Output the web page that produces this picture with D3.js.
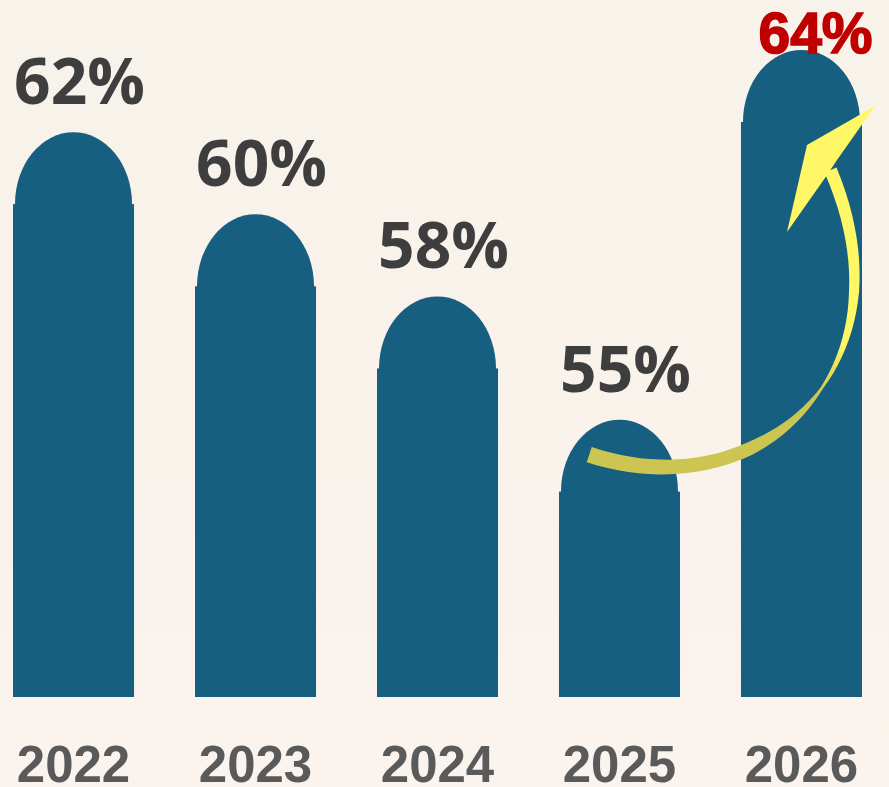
<!DOCTYPE html>
<html>
<head>
<meta charset="utf-8">
<script src="https://cdn.jsdelivr.net/npm/d3@7"></script>
<style>
  html, body { margin: 0; padding: 0; background: #f8f2ea; }
  svg { display: block; }
</style>
</head>
<body>
<svg id="chart"></svg>
<script>
// chart data
const years = ["2022", "2023", "2024", "2025", "2026"];
const values = [62, 60, 58, 55, 64];
const valueLabels = ["62%", "60%", "58%", "55%", "64%"];
const highlightYear = "2026";
const arrowFrom = "2025";
const arrowTo = "2026";

var width = 889;
var height = 787;
var baseY = 697;
var domeH = 72;

var svg = d3.select("#chart")
  .attr("width", width)
  .attr("height", height);

var defs = svg.append("defs");

var bg = defs.append("linearGradient")
  .attr("id", "bg")
  .attr("x1", 0).attr("y1", 0).attr("x2", 0).attr("y2", 1);
bg.append("stop").attr("offset", "0%").attr("stop-color", "#f7f2ea");
bg.append("stop").attr("offset", "100%").attr("stop-color", "#fbf3ed");

svg.append("rect")
  .attr("width", width)
  .attr("height", height)
  .attr("fill", "url(#bg)");

var data = years.map((y, i) => ({ year: y, value: values[i], label: valueLabels[i] }));

var x = d3.scaleBand()
  .domain(years)
  .range([13, 862])
  .paddingInner(0.335)
  .paddingOuter(0);

var y = d3.scaleLinear()
  .domain([50, 64])
  .range([baseY, 122]);

var bw = x.bandwidth();

// bars: rectangle body with a slightly narrower dome on top
var bars = svg.append("g")
  .selectAll("g")
  .data(data)
  .join("g")
  .attr("transform", d => `translate(${x(d.year)},0)`);

bars.append("rect")
  .attr("x", 0)
  .attr("y", d => y(d.value))
  .attr("width", bw)
  .attr("height", d => baseY - y(d.value))
  .attr("fill", "#175f80");

bars.append("path")
  .attr("d", d => {
    var s = y(d.value) + 1;
    var rx = (bw - 4) / 2;
    return `M2,${s} L2,${s - 1} A${rx},${domeH} 0 0 1 ${bw - 2},${s - 1} L${bw - 2},${s} Z`;
  })
  .attr("fill", "#175f80");

// value labels
svg.append("g")
  .selectAll("text")
  .data(data)
  .join("text")
  .attr("x", d => x(d.year) + bw / 2 + (d.year === highlightYear ? 14 : 6))
  .attr("y", d => Math.max(y(d.value) - domeH - 28, 53))
  .attr("text-anchor", "middle")
  .attr("font-family", d => d.year === highlightYear ? "'Liberation Sans', Arial, sans-serif" : "'Open Sans', 'Noto Sans', sans-serif")
  .attr("font-weight", 700)
  .attr("font-size", d => d.year === highlightYear ? 57 : 64)
  .attr("fill", d => d.year === highlightYear ? "#c00000" : "#3e3e3e")
  .attr("stroke", d => d.year === highlightYear ? "#c00000" : "none")
  .attr("stroke-width", 1.6)
  .text(d => d.label);

// year labels
svg.append("g")
  .selectAll("text")
  .data(data)
  .join("text")
  .attr("x", d => x(d.year) + bw / 2)
  .attr("y", 782)
  .attr("text-anchor", "middle")
  .attr("font-family", "'Liberation Sans', Arial, sans-serif")
  .attr("font-weight", 700)
  .attr("font-size", 51)
  .attr("fill", "#5a5a5a")
  .text(d => d.year);

// curved arrow from 2025 to 2026
var fromV = values[years.indexOf(arrowFrom)];
var toV = values[years.indexOf(arrowTo)];
var p0 = [x(arrowFrom) + bw * 0.25, y(fromV) - 70 + 33];
var p3 = [x(arrowTo) + bw * 0.74, y(toV) + 48];
var p1 = [p0[0] + 170, p0[1] + 56];
var p2 = [p3[0] + 85, p3[1] + 200];

function bez(t) {
  var u = 1 - t;
  return [
    u * u * u * p0[0] + 3 * u * u * t * p1[0] + 3 * u * t * t * p2[0] + t * t * t * p3[0],
    u * u * u * p0[1] + 3 * u * u * t * p1[1] + 3 * u * t * t * p2[1] + t * t * t * p3[1]
  ];
}
function bezD(t) {
  var u = 1 - t;
  return [
    3 * u * u * (p1[0] - p0[0]) + 6 * u * t * (p2[0] - p1[0]) + 3 * t * t * (p3[0] - p2[0]),
    3 * u * u * (p1[1] - p0[1]) + 6 * u * t * (p2[1] - p1[1]) + 3 * t * t * (p3[1] - p2[1])
  ];
}
var widthAt = d3.scaleLinear()
  .domain([0, 0.35, 0.56, 0.78, 1])
  .range([16, 13, 2.5, 10, 13]);

var left = [], right = [];
d3.range(0, 1.0001, 0.02).forEach(t => {
  var p = bez(t), d = bezD(t);
  var len = Math.hypot(d[0], d[1]);
  var nx = -d[1] / len, ny = d[0] / len;
  var w = widthAt(t) / 2;
  left.push([p[0] + nx * w, p[1] + ny * w]);
  right.push([p[0] - nx * w, p[1] - ny * w]);
});
var shaft = left.concat(right.reverse());

var ag = defs.append("linearGradient")
  .attr("id", "arrowGrad")
  .attr("gradientUnits", "userSpaceOnUse")
  .attr("x1", 0).attr("y1", 395).attr("x2", 0).attr("y2", 345);
ag.append("stop").attr("offset", "0%").attr("stop-color", "#cdc551");
ag.append("stop").attr("offset", "100%").attr("stop-color", "#fff765");

svg.append("path")
  .attr("d", d3.line()(shaft) + "Z")
  .attr("fill", "url(#arrowGrad)");

var tx = x(arrowTo) + bw;
var ty = y(toV);
var head = [
  [tx + 13, ty - 16],
  [tx - 55, ty + 23],
  [tx - 75, ty + 110],
  [tx - 37, ty + 56],
  [tx - 25, ty + 38]
];
svg.append("path")
  .attr("d", d3.line()(head) + "Z")
  .attr("fill", "#fff765");
</script>
</body>
</html>
